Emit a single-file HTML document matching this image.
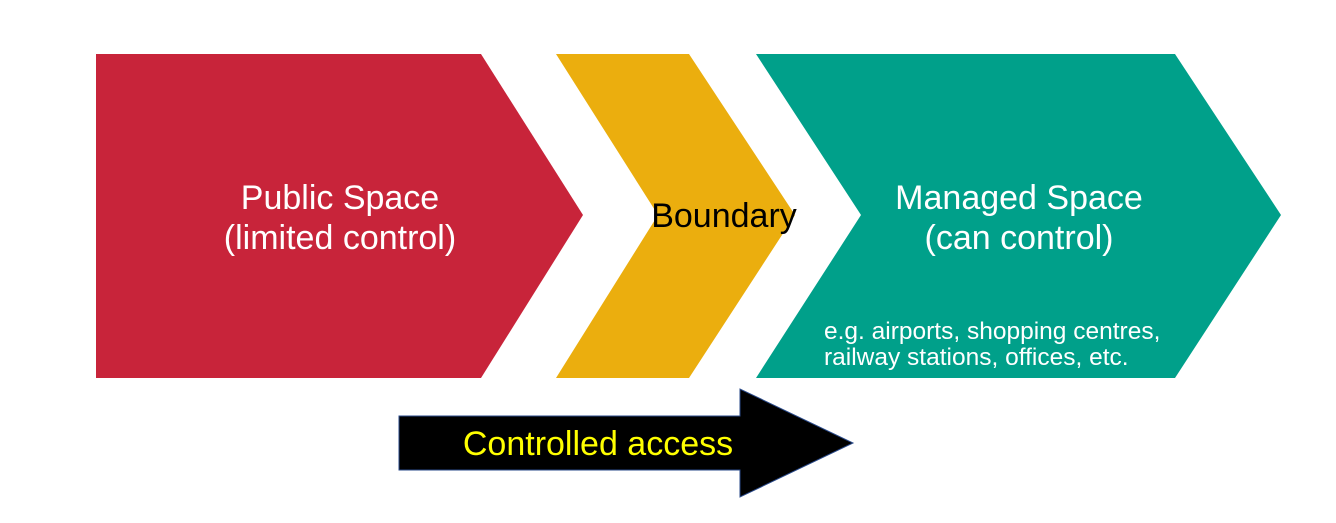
<!DOCTYPE html>
<html><head><meta charset="utf-8"><style>
html,body{margin:0;padding:0;background:#fff;}
svg{display:block;}
text{font-family:"Liberation Sans",sans-serif;}
</style></head><body>
<svg width="1336" height="523" viewBox="0 0 1336 523" xmlns="http://www.w3.org/2000/svg">
<rect width="1336" height="523" fill="#fff"/>
<polygon points="96,54 481,54 583,215 481,378 96,378" fill="#c8243a"/>
<polygon points="556,54 689,54 795,215 689,378 556,378 658,215" fill="#ebae0e"/>
<polygon points="756,54 1175,54 1281,215 1175,378 756,378 861,215" fill="#00a08a"/>
<polygon points="399,416 740,416 740,389 853,443 740,497 740,470 399,470" fill="#000" stroke="#2a4a8a" stroke-width="1"/>
<text x="340" y="209" font-size="34" fill="#fff" text-anchor="middle">Public Space</text>
<text x="340" y="249" font-size="34" fill="#fff" text-anchor="middle">(limited control)</text>
<text x="724" y="227" font-size="34" fill="#000" text-anchor="middle">Boundary</text>
<text x="1019" y="209" font-size="34" fill="#fff" text-anchor="middle">Managed Space</text>
<text x="1019" y="249" font-size="34" fill="#fff" text-anchor="middle">(can control)</text>
<text x="824" y="339" font-size="24.5" fill="#fff">e.g. airports, shopping centres,</text>
<text x="824" y="365" font-size="24.5" fill="#fff">railway stations, offices, etc.</text>
<text x="598" y="455" font-size="34" fill="#ffff00" text-anchor="middle">Controlled access</text>
</svg>
</body></html>
